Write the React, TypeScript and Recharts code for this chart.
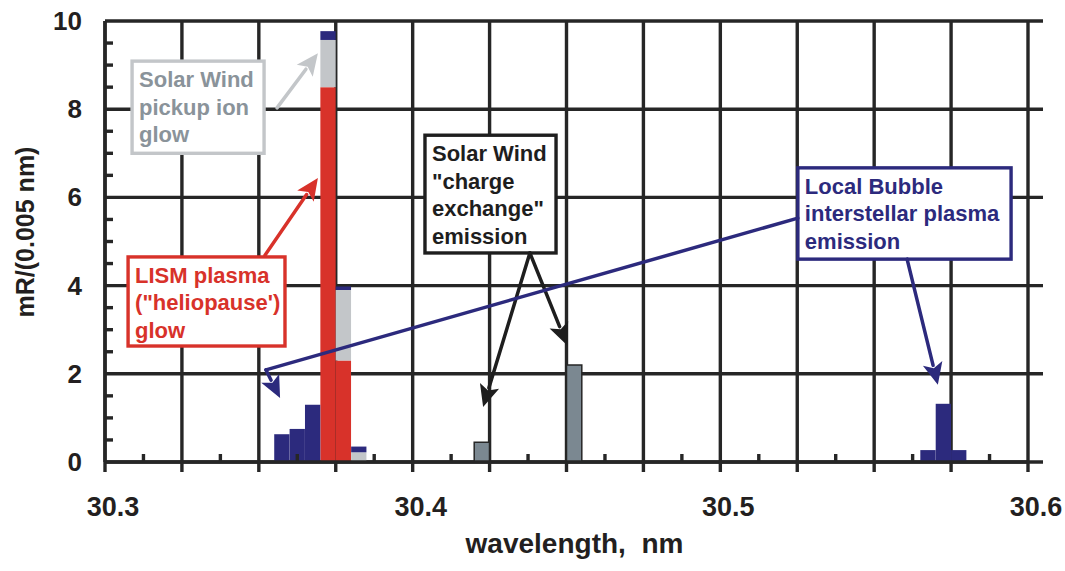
import React from 'react';
import {
  ComposedChart,
  Bar,
  XAxis,
  YAxis,
  CartesianGrid,
  ReferenceLine,
  ReferenceArea,
} from 'recharts';

// ---------- data (bins of 0.005 nm, centres) ----------
const binCenters = [30.3575, 30.3625, 30.3675, 30.3725, 30.3775, 30.3825, 30.4225, 30.4525, 30.5675, 30.5725, 30.5775];
const lismGlow = [0, 0, 0, 8.5, 2.3, 0, 0, 0, 0, 0, 0];
const pickupIonGlow = [0, 0, 0, 1.07, 1.6, 0.22, 0, 0, 0, 0, 0];
const localBubble = [0.63, 0.75, 1.3, 0.2, 0.08, 0.13, 0, 0, 0.27, 1.32, 0.27];
const chargeExchange = [0, 0, 0, 0, 0, 0, 0.45, 2.2, 0, 0, 0];

const xTicks = [30.3, 30.325, 30.35, 30.375, 30.4, 30.425, 30.45, 30.475, 30.5, 30.525, 30.55, 30.575, 30.6];
const xTickLabels = ['30.3', '30.4', '30.5', '30.6'];
const xMinorTicks = [30.3125, 30.3375, 30.3625, 30.3875, 30.4125, 30.4375, 30.4625, 30.4875, 30.5125, 30.5375, 30.5625, 30.5875];
const yTicks = [0, 2, 4, 6, 8, 10];
const yMinorTicks = [0.5, 1, 1.5, 2.5, 3, 3.5, 4.5, 5, 5.5, 6.5, 7, 7.5, 8.5, 9, 9.5];

const boxLabels = [
  ['Solar Wind', 'pickup ion', 'glow'],
  ['LISM plasma', '("heliopause\')', 'glow'],
  ['Solar Wind', '"charge', 'exchange"', 'emission'],
  ['Local Bubble', 'interstellar plasma', 'emission'],
];
// annotation boxes in data coordinates [x1, x2, yLow, yHigh]
const boxExtents = [
  [30.3088, 30.3517, 7.0, 9.09],
  [30.3075, 30.3585, 2.63, 4.65],
  [30.404, 30.4466, 4.74, 7.41],
  [30.5252, 30.5945, 4.6, 6.67],
];
// arrows in data coordinates [xFrom, yFrom, xTo, yTo, hasHead, colourIndex]
const arrowSegments: [number, number, number, number, boolean, number][] = [
  [30.3559, 8.03, 30.3692, 9.27, true, 0],
  [30.352, 4.69, 30.3692, 6.44, true, 1],
  [30.4381, 4.74, 30.4229, 1.25, true, 2],
  [30.4381, 4.74, 30.4502, 2.65, true, 2],
  [30.5252, 5.53, 30.3523, 2.09, false, 3],
  [30.3523, 2.09, 30.3569, 1.45, true, 3],
  [30.5607, 4.6, 30.5707, 1.75, true, 3],
];

// ---------- styles ----------
const W = 1065;
const H = 571;
const MARGIN = { top: 21, right: 37, bottom: 49, left: 0 };
const Y_AXIS_W = 105;
const X_AXIS_H = 60;
const INK = '#262626';
const GRID_W = 3.4;
const FONT = '"Liberation Sans", Arial, Helvetica, sans-serif';
const RED = '#d8322a';
const LIGHT = '#c3c6c9';
const NAVY = '#2c2a7d';
const SLATE = '#7b8891';
const boxBorder = [LIGHT, RED, '#1e1e1e', NAVY];
const boxText = ['#8a939a', RED, '#1e1e1e', NAVY];
const X_MIN = 30.3;
const Y_MIN = 0;

const tableData = binCenters.map((x, i) => ({
  x,
  lism: lismGlow[i],
  pickup: pickupIonGlow[i],
  localBubble: localBubble[i],
  chargeExchange: chargeExchange[i],
}));

const XTick = (props: any) => {
  const { x, y, payload } = props;
  const lbl = xTickLabels.find((l) => Math.abs(parseFloat(l) - payload.value) < 1e-6);
  if (!lbl) return <g />;
  return (
    <text x={x + 8} y={y + 42} textAnchor="middle" fontFamily={FONT} fontWeight="bold" fontSize={27} fill="#231f20">
      {lbl}
    </text>
  );
};

const YTick = (props: any) => {
  const { x, y, payload } = props;
  return (
    <text x={x} y={y} dy={9} textAnchor="end" fontFamily={FONT} fontWeight="bold" fontSize={26} fill="#231f20">
      {payload.value}
    </text>
  );
};

const horizontalGrid = (p: any) => (
  <line
    key={`h-${p.y1}`}
    x1={p.x1}
    x2={p.x2 + 15}
    y1={p.y1}
    y2={p.y2}
    stroke={INK}
    strokeWidth={GRID_W}
  />
);

// short inward tick: draws 8 px from the first point toward the second point
const minorTickShape = (p: any) => {
  const { x1, y1, x2, y2 } = p;
  const dx = x2 - x1;
  const dy = y2 - y1;
  const len = Math.hypot(dx, dy) || 1;
  return (
    <line x1={x1} y1={y1} x2={x1 + (dx / len) * 8} y2={y1 + (dy / len) * 8} stroke={INK} strokeWidth={GRID_W} />
  );
};

const makeArrowShape = (color: string, head: boolean) => (p: any) => {
  const { x1, y1, x2, y2 } = p;
  const dx = x2 - x1;
  const dy = y2 - y1;
  const len = Math.hypot(dx, dy) || 1;
  const ux = dx / len;
  const uy = dy / len;
  const L = 22;
  const HW = 10;
  const bx = x2 - ux * L;
  const by = y2 - uy * L;
  return (
    <g>
      <line
        x1={x1}
        y1={y1}
        x2={head ? bx + ux * 2 : x2}
        y2={head ? by + uy * 2 : y2}
        stroke={color}
        strokeWidth={3.5}
        strokeLinecap="round"
      />
      {head && (
        <polygon
          points={`${x2},${y2} ${bx - uy * HW},${by + ux * HW} ${bx + ux * 5},${by + uy * 5} ${bx + uy * HW},${by - ux * HW}`}
          fill={color}
        />
      )}
    </g>
  );
};

const makeBoxShape = (idx: number) => (p: any) => {
  const { x, y, width, height } = p;
  const lines = boxLabels[idx];
  return (
    <g>
      <rect x={x} y={y} width={width} height={height} fill="#ffffff" stroke={boxBorder[idx]} strokeWidth={3.4} />
      <text fontFamily={FONT} fontWeight="bold" fontSize={22} fill={boxText[idx]}>
        {lines.map((l, i) => (
          <tspan key={i} x={x + 7} y={y + 26 + i * 27.5}>
            {l}
          </tspan>
        ))}
      </text>
    </g>
  );
};

const YTitle = () => {
  const cx = 25;
  const cy = 232;
  return (
    <text
      x={cx}
      y={cy}
      dy={9}
      transform={`rotate(-90 ${cx} ${cy})`}
      textAnchor="middle"
      fontFamily={FONT}
      fontWeight="bold"
      fontSize={25}
      fill="#231f20"
    >
      mR/(0.005 nm)
    </text>
  );
};

const XTitle = (props: any) => {
  const vb = props.viewBox || {};
  const cx = (vb.x || 0) + (vb.width || 0) / 2 + 8;
  return (
    <text
      x={cx}
      y={553}
      textAnchor="middle"
      fontFamily={FONT}
      fontWeight="bold"
      fontSize={28}
      fill="#231f20"
      style={{ whiteSpace: 'pre' }}
    >
      {'wavelength,  nm'}
    </text>
  );
};

export default function App() {
  return (
    <div style={{ position: 'absolute', left: 0, top: 0, width: W, height: H, background: '#ffffff' }}>
      <ComposedChart width={W} height={H} data={tableData} margin={MARGIN} barGap={0} barCategoryGap={0}>
        <CartesianGrid
          stroke={INK}
          strokeWidth={GRID_W}
          horizontal={horizontalGrid}
          vertical={{ stroke: INK, strokeWidth: GRID_W }}
        />
        <XAxis
          dataKey="x"
          type="number"
          domain={[30.3, 30.6]}
          ticks={xTicks}
          interval={0}
          allowDataOverflow
          height={X_AXIS_H}
          tickSize={10}
          tickLine={{ stroke: INK, strokeWidth: GRID_W }}
          axisLine={{ stroke: INK, strokeWidth: GRID_W }}
          tick={<XTick />}
          label={<XTitle />}
        />
        <YAxis
          type="number"
          domain={[0, 10]}
          ticks={yTicks}
          interval={0}
          allowDataOverflow
          width={Y_AXIS_W}
          tickSize={0}
          tickMargin={23}
          tickLine={false}
          axisLine={{ stroke: INK, strokeWidth: GRID_W }}
          tick={<YTick />}
          label={<YTitle />}
        />
        {xMinorTicks.map((v) => (
          <ReferenceLine
            key={`xm${v}`}
            segment={[
              { x: v, y: Y_MIN },
              { x: v, y: 1 },
            ]}
            shape={minorTickShape}
          />
        ))}
        {yMinorTicks.map((v) => (
          <ReferenceLine
            key={`ym${v}`}
            segment={[
              { x: X_MIN, y: v },
              { x: 30.35, y: v },
            ]}
            shape={minorTickShape}
          />
        ))}
        <Bar dataKey="lism" stackId="s" fill={RED} barSize={15.3} isAnimationActive={false} />
        <Bar dataKey="pickup" stackId="s" fill={LIGHT} barSize={15.3} isAnimationActive={false} />
        <Bar dataKey="localBubble" stackId="s" fill={NAVY} barSize={15.3} isAnimationActive={false} />
        <Bar
          dataKey="chargeExchange"
          stackId="s"
          fill={SLATE}
          stroke={INK}
          strokeWidth={1.5}
          barSize={15.3}
          isAnimationActive={false}
        />
        {boxExtents.map((b, i) => (
          <ReferenceArea key={`box${i}`} x1={b[0]} x2={b[1]} y1={b[2]} y2={b[3]} shape={makeBoxShape(i)} />
        ))}
        {arrowSegments.map((a, i) => (
          <ReferenceLine
            key={`arr${i}`}
            segment={[
              { x: a[0], y: a[1] },
              { x: a[2], y: a[3] },
            ]}
            shape={makeArrowShape(boxBorder[a[5]], a[4])}
          />
        ))}
      </ComposedChart>
    </div>
  );
}
